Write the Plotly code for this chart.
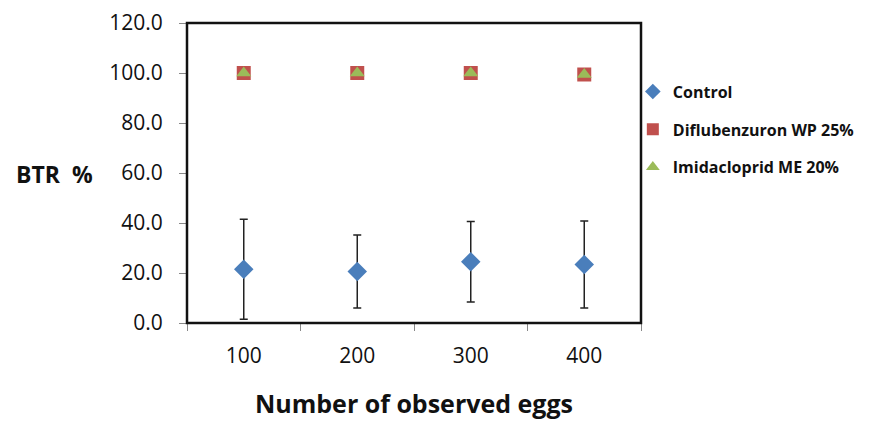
import plotly.graph_objects as go

categories = ["100", "200", "300", "400"]
control = [21.5, 20.6, 24.5, 23.4]
control_err = [20.0, 14.6, 16.1, 17.4]
diflubenzuron = [100.0, 100.0, 100.0, 99.4]
imidacloprid = [100.0, 100.0, 100.0, 99.4]
y_ticks = [0, 20, 40, 60, 80, 100, 120]

FONT = "Open Sans"

fig = go.Figure()
fig.add_trace(go.Scatter(
    x=categories, y=control, mode="markers", name="Control", legendgroup="a",
    marker=dict(symbol="diamond", size=15, color="#4A7EBB"),
    error_y=dict(type="data", array=control_err, visible=True,
                 color="#222222", thickness=1.5, width=4),
))
fig.add_trace(go.Scatter(
    x=categories, y=diflubenzuron, mode="markers", name="Diflubenzuron WP 25%",
    legendgroup="b",
    marker=dict(symbol="square", size=14, color="#C0504D"),
))
fig.add_trace(go.Scatter(
    x=categories, y=imidacloprid, mode="markers", name="Imidacloprid ME 20%",
    legendgroup="c",
    marker=dict(symbol="triangle-up", size=13, color="#9BBB59"),
))

fig.update_layout(
    width=876, height=428,
    margin=dict(l=179, r=243, t=15, b=113, autoexpand=False),
    paper_bgcolor="white", plot_bgcolor="white",
    font=dict(family=FONT, color="#111111"),
    showlegend=True,
    legend=dict(x=0.982, y=0.828, xanchor="left", yanchor="top",
                font=dict(family=FONT, size=16, color="#111111", weight="bold"),
                tracegroupgap=14, itemsizing="constant",
                bgcolor="rgba(0,0,0,0)"),
    xaxis=dict(
        type="category", range=[-0.5, 3.5], tickson="boundaries",
        showgrid=False, zeroline=False, automargin=False,
        showline=False,
        ticks="outside", ticklen=7, tickcolor="#888888", tickwidth=1,
        ticklabelstandoff=18, ticklabeloverflow="allow",
        tickfont=dict(family=FONT, size=21, color="#111111"),
        title=dict(text="Number of observed eggs", standoff=27,
                   font=dict(family=FONT, size=25, color="#111111", weight="bold")),
    ),
    yaxis=dict(
        range=[0, 120], tickvals=y_ticks, tickformat=".1f",
        showgrid=False, zeroline=False, automargin=False,
        showline=False,
        ticks="outside", ticklen=7, tickcolor="#888888", tickwidth=1,
        ticklabelstandoff=12, ticklabeloverflow="allow",
        tickfont=dict(family=FONT, size=21, color="#111111"),
    ),
    shapes=[
        dict(type="rect", xref="paper", yref="paper", x0=0, x1=1, y0=0, y1=1,
             line=dict(color="#111111", width=2.5), layer="above"),
    ],
    annotations=[dict(
        text="BTR\u00a0\u00a0%", xref="paper", yref="paper", x=-0.38, y=0.498,
        xanchor="left", yanchor="middle", showarrow=False,
        font=dict(family=FONT, size=23, color="#111111", weight="bold"),
    )],
)

fig.write_html("out.html")
